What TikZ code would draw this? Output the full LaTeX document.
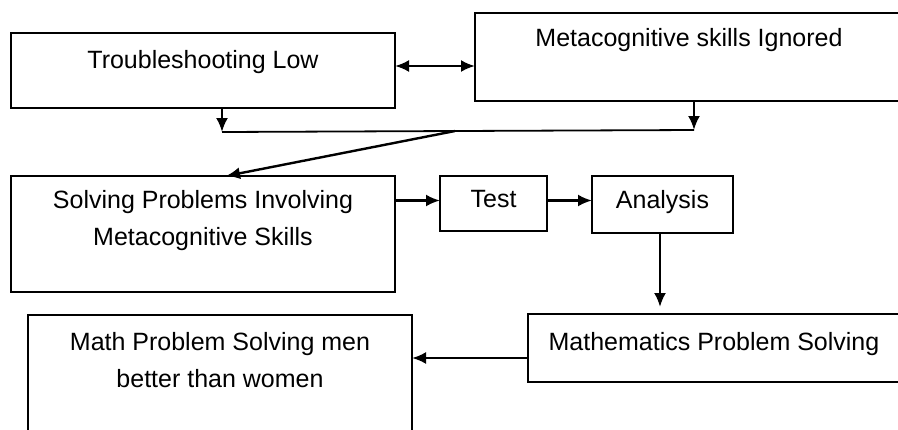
\documentclass[tikz,border=0pt]{standalone}
\usepackage{fontspec}
\setmainfont{Liberation Sans}
\usetikzlibrary{positioning,arrows.meta}

\begin{document}
\begin{tikzpicture}[x=1pt, y=-1pt,
                    box/.style={rectangle, draw=black, line width=2.8pt, inner sep=0pt, outer sep=0pt},
                    txt/.style={inner sep=0pt, align=center, font=\fontsize{25}{37.5}\selectfont},
                    arr/.style={line width=2.4pt, -{Latex[length=14pt,width=12pt]}},
                    twoarr/.style={line width=2.4pt, {Latex[length=14pt,width=12pt]}-{Latex[length=14pt,width=12pt]}},
                    joinline/.style={line width=1.8pt},]
    \useasboundingbox (0,0) rectangle (898,429);
    % nodes
    \node[box, minimum width=384pt, minimum height=75pt]   (trouble)  at (203,70.5)  {};
    \node[box, minimum width=428pt, minimum height=88pt]   (ignored)  at (689,57)    {};
    \node[box, minimum width=384pt, minimum height=116pt]  (solving)  [below=68pt of trouble] {};
    \node[box, minimum width=107pt, minimum height=55pt]   (test)     [right=45pt of solving.north east, anchor=north west] {};
    \node[box, minimum width=141pt, minimum height=57pt]   (analysis) [right=45pt of test.north east, anchor=north west] {};
    \node[box, minimum width=372pt, minimum height=68pt]   (mathps)   at (714,348)   {};
    \node[box, minimum width=384pt, minimum height=144pt]  (menwomen) at (220,387)   {};
    % texts
    \node[txt] (trouble text)  [below=17pt of trouble.north]  {Troubleshooting Low};
    \node[txt] (ignored text)  [below=15pt of ignored.north]  {Metacognitive skills Ignored};
    \node[txt] (solving text)  [below=14pt of solving.north]  {Solving Problems Involving\\Metacognitive Skills};
    \node[txt] (test text)     [below=14pt of test.north]     {Test};
    \node[txt] (analysis text) [below=14pt of analysis.north] {Analysis};
    \node[txt] (mathps text)   [below=18pt of mathps.north]   {Mathematics Problem Solving};
    \node[txt] (menwomen text) [below=17pt of menwomen.north] {Math Problem Solving men\\better than women};
    % join points
    \coordinate (jl) at (222,132);
    \coordinate (jm) at (455,131);
    \coordinate (jr) at (694,130);
    % lines
    \draw[twoarr] ([yshift=4.5pt]trouble.east) -- ([yshift=4.5pt]trouble.east -| ignored.west);
    \draw[arr] ([xshift=19pt]trouble.south) -- (jl);
    \draw[arr] ([xshift=5pt]ignored.south) -- (jr);
    \draw[joinline] (jl) -- (jr);
    \draw[arr] (jm) -- ([xshift=23pt]solving.north);
    \draw[arr] ([yshift=3pt]test.west -| solving.east) -- ([yshift=3pt]test.west);
    \draw[arr] ([yshift=3pt]test.east) -- ([yshift=3pt]test.east -| analysis.west);
    \draw[arr, shorten >=7pt] ([xshift=-2.5pt]analysis.south) -- ([xshift=-2.5pt]analysis.south |- mathps.north);
    \draw[arr] ([yshift=-10pt]mathps.west) -- ([yshift=-10pt]mathps.west -| menwomen.east);
\end{tikzpicture}
\end{document}
